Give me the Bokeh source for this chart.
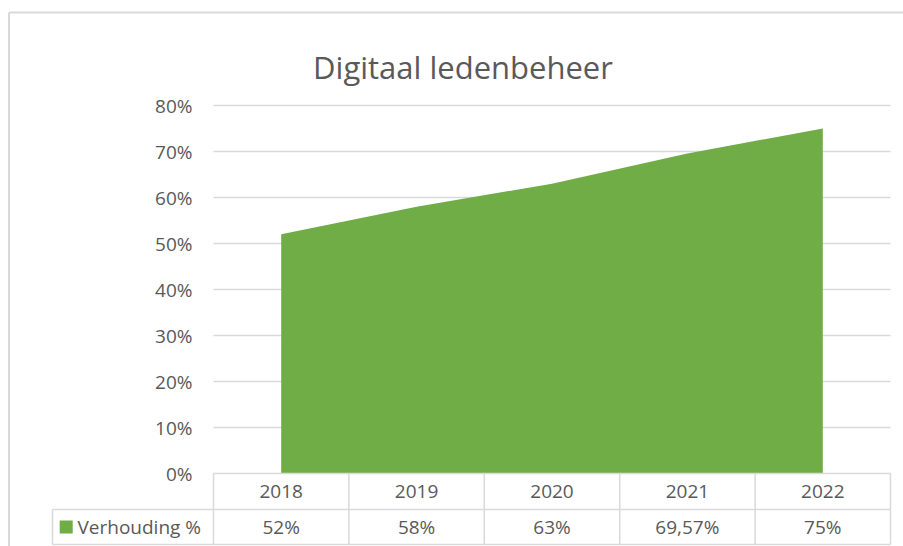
from bokeh.plotting import figure
from bokeh.models import Range1d
from bokeh.core.properties import value
from bokeh.embed import file_html
from bokeh.resources import INLINE

# ---- data ----
title_text = "Digitaal ledenbeheer"
series_name = "Verhouding %"
years = ["2018", "2019", "2020", "2021", "2022"]
values = [52, 58, 63, 69.57, 75]
y_ticks = [0, 10, 20, 30, 40, 50, 60, 70, 80]
y_tick_labels = [f"{t}%" for t in y_ticks]


def fmt_pct(v):
    s = f"{v:g}"
    return s.replace(".", ",") + "%"


value_labels = [fmt_pct(v) for v in values]

# ---- geometry (page pixels) ----
W, H = 903, 546
X0 = 213          # left edge of the category area
CAT_W = 135.4     # width of one category
Y0 = 473          # 0% line
PX_PER_PCT = 4.6  # pixels per percentage point


def fx(px):
    return (px - X0) / CAT_W


def fy(py):
    return (Y0 - py) / PX_PER_PCT


GREEN = "#70ad47"
TEXT = "#595959"
LINE = "#d9d9d9"
FONT = "Open Sans"
FS = "19px"

p = figure(width=W, height=H,
           x_range=Range1d(fx(0), fx(W)), y_range=Range1d(fy(H), fy(0)),
           x_axis_type=None, y_axis_type=None,
           toolbar_location=None, output_backend="svg",
           min_border=0, min_border_left=0, min_border_right=0,
           min_border_top=0, min_border_bottom=0)
p.outline_line_color = None
p.background_fill_color = "white"
p.border_fill_color = "white"

n = len(years)
centers = [i + 0.5 for i in range(n)]

# outer chart border (left and top)
p.segment(x0=[fx(8.5)], y0=[fy(12)], x1=[fx(8.5)], y1=[fy(H)], line_color=LINE, line_width=2)
p.segment(x0=[fx(8.5)], y0=[fy(12)], x1=[fx(W)], y1=[fy(12)], line_color=LINE, line_width=2)

# gridlines
grid_y = [t for t in y_ticks if t > 0]
p.segment(x0=[0] * len(grid_y), y0=grid_y, x1=[n] * len(grid_y), y1=grid_y,
          line_color=LINE, line_width=1.3)

# area
p.varea(x=centers, y1=[0] * n, y2=values, fill_color=GREEN)

# data table
row1 = fy(509)
row2 = fy(544)
leg_left = fx(52)
p.segment(x0=[0, leg_left, leg_left], y0=[0, row1, row2],
          x1=[n, n, n], y1=[0, row1, row2], line_color=LINE, line_width=1.5)
vx = list(range(n + 1))
p.segment(x0=vx, y0=[0] * len(vx), x1=vx, y1=[row2] * len(vx), line_color=LINE, line_width=1.5)
p.segment(x0=[leg_left], y0=[row1], x1=[leg_left], y1=[row2], line_color=LINE, line_width=1.5)

p.text(x=centers, y=[(0 + row1) / 2] * n, text=years,
       text_font=value(FONT), text_font_size=FS, text_color=TEXT,
       text_align="center", text_baseline="middle")
p.text(x=centers, y=[(row1 + row2) / 2] * n, text=value_labels,
       text_font=value(FONT), text_font_size=FS, text_color=TEXT,
       text_align="center", text_baseline="middle")

# legend key in the table
p.scatter(x=[fx(65.7)], y=[(row1 + row2) / 2], marker="square", size=13,
          fill_color=GREEN, line_color=None)
p.text(x=[fx(77)], y=[(row1 + row2) / 2], text=[series_name],
       text_font=value(FONT), text_font_size=FS, text_color=TEXT,
       text_align="left", text_baseline="middle")

# y tick labels
p.text(x=[fx(192)] * len(y_ticks), y=y_ticks, text=y_tick_labels,
       text_font=value(FONT), text_font_size=FS, text_color=TEXT,
       text_align="right", text_baseline="middle")

# title
p.text(x=[fx(462.5)], y=[fy(66)], text=[title_text],
       text_font=value(FONT), text_font_size="31px", text_color=TEXT,
       text_align="center", text_baseline="alphabetic")

open("out.html", "w").write(file_html(p, INLINE))
